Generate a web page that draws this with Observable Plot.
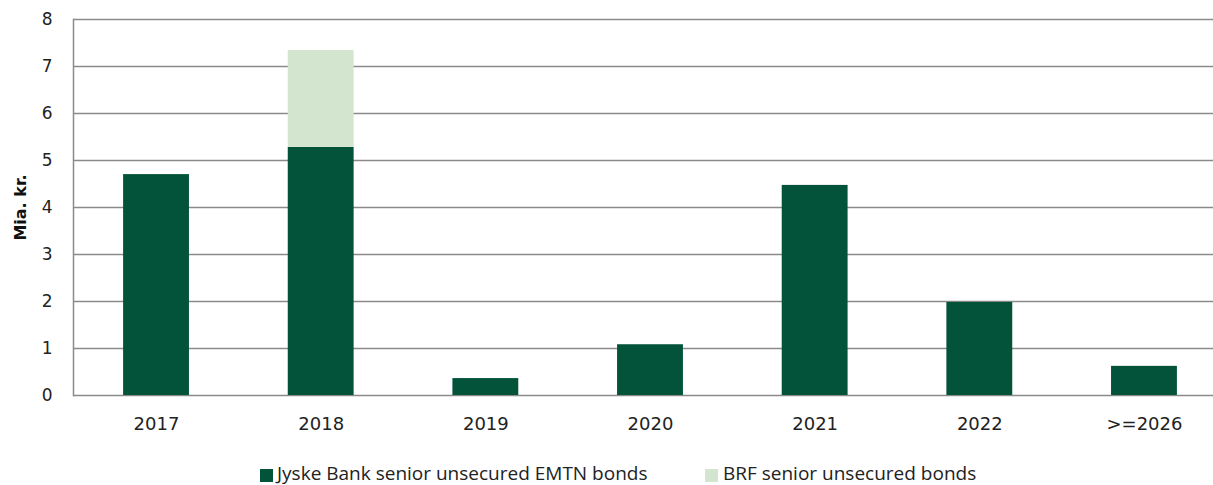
<!DOCTYPE html>
<html>
<head>
<meta charset="utf-8">
<script src="https://cdn.jsdelivr.net/npm/d3@7"></script>
<script src="https://cdn.jsdelivr.net/npm/@observablehq/plot@0.6"></script>
<style>
  html, body { margin: 0; padding: 0; background: #fff; overflow: hidden; }
  #chart svg { display: block; }
  .legend { position: relative; height: 45px; font-family: "Open Sans", sans-serif; font-size: 19px; color: #222; line-height: 19px; }
  .legend .sw { position: absolute; top: 29px; width: 13px; height: 13px; }
  .legend .tx { position: absolute; top: 24px; white-space: nowrap; }
</style>
</head>
<body>
<div id="chart"></div>
<div class="legend">
  <span class="sw" style="left:260px;background:#02533A"></span><span class="tx" id="l1" style="left:277px"></span>
  <span class="sw" style="left:705px;background:#D3E5CF"></span><span class="tx" id="l2" style="left:723px"></span>
</div>
<script>
const categories = ["2017", "2018", "2019", "2020", "2021", "2022", ">=2026"];
const jyske = [4.7, 5.28, 0.36, 1.08, 4.47, 1.98, 0.62];
const brf = [0, 2.06, 0, 0, 0, 0, 0];
const seriesNames = ["Jyske Bank senior unsecured EMTN bonds", "BRF senior unsecured bonds"];
const colors = ["#02533A", "#D3E5CF"];
const yTicks = [0, 1, 2, 3, 4, 5, 6, 7, 8];

document.getElementById("l1").textContent = seriesNames[0];
document.getElementById("l2").textContent = seriesNames[1];

const data = [];
categories.forEach((c, i) => {
  data.push({cat: c, series: seriesNames[0], value: jyske[i]});
  data.push({cat: c, series: seriesNames[1], value: brf[i]});
});

const chart = Plot.plot({
  width: 1213,
  height: 440,
  marginTop: 19,
  marginBottom: 45,
  marginLeft: 73,
  marginRight: 0,
  style: {fontFamily: "DejaVu Sans, sans-serif", fontSize: "17px", color: "#222", background: "#fff"},
  x: {domain: categories, range: [73.7, 1226.3], round: false, paddingInner: 0.6, paddingOuter: 0.3, label: null},
  y: {domain: [0, 8], label: null},
  color: {domain: seriesNames, range: colors},
  marks: [
    Plot.ruleY(yTicks, {stroke: "#8a8a8a", strokeWidth: 1.5}),
    Plot.barY(data, Plot.stackY({x: "cat", y: "value", fill: "series", order: seriesNames})),
    Plot.axisY({ticks: yTicks, tickSize: 0, tickPadding: 21, fontSize: 17}),
    Plot.axisX({tickSize: 0, tickPadding: 22, fontSize: 18}),
    Plot.frame({anchor: "left", stroke: "#8a8a8a", strokeWidth: 1.5}),
    Plot.text(["Mia. kr."], {frameAnchor: "left", dx: -53, rotate: -90, textAnchor: "middle", fontWeight: "bold", fontSize: 16, fill: "#111"})
  ]
});
document.getElementById("chart").appendChild(chart);
</script>
</body>
</html>
